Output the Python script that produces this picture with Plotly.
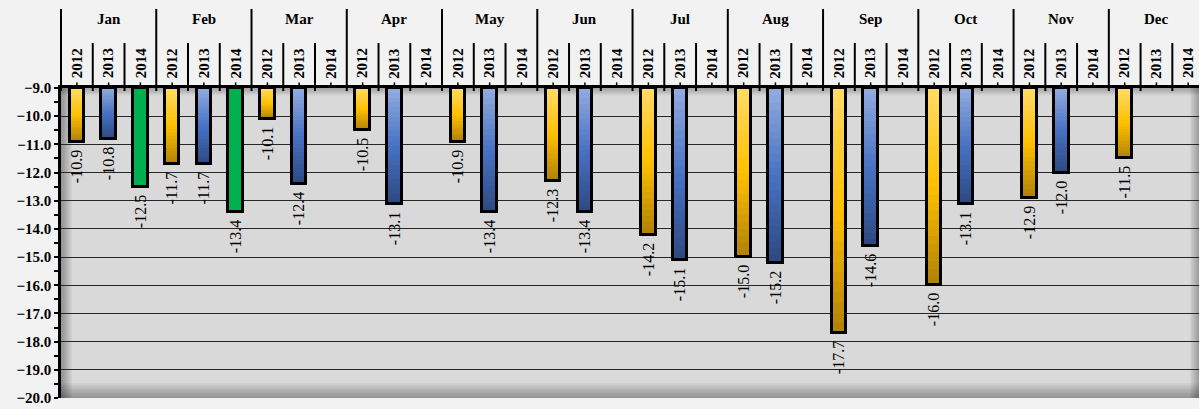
import plotly.graph_objects as go

# Monthly minimum values per year
months = ["Jan", "Feb", "Mar", "Apr", "May", "Jun",
          "Jul", "Aug", "Sep", "Oct", "Nov", "Dec"]
years = ["2012", "2013", "2014"]
vals_2012 = [-10.9, -11.7, -10.1, -10.5, -10.9, -12.3, -14.2, -15.0, -17.7, -16.0, -12.9, -11.5]
vals_2013 = [-10.8, -11.7, -12.4, -13.1, -13.4, -13.4, -15.1, -15.2, -14.6, -13.1, -12.0, None]
vals_2014 = [-12.5, -13.4, None, None, None, None, None, None, None, None, None, None]

BASE = -9.0
Y_MIN = -20.0
FONT = "Liberation Serif"

# colour ramps (top, middle, bottom) per year
ramps = {
    "2012": [(255, 219, 105), (255, 192, 0), (176, 128, 8)],
    "2013": [(146, 172, 222), (72, 114, 196), (44, 72, 128)],
    "2014": [(0, 176, 80), (0, 176, 80), (0, 176, 80)],
}
series = {"2012": vals_2012, "2013": vals_2013, "2014": vals_2014}


def ramp_color(stops, t):
    # t = 0 at the bar top, 1 at the bar bottom
    if t <= 0.5:
        a, b, u = stops[0], stops[1], t / 0.5
    else:
        a, b, u = stops[1], stops[2], (t - 0.5) / 0.5
    c = [round(a[i] + (b[i] - a[i]) * u) for i in range(3)]
    return f"rgb({c[0]},{c[1]},{c[2]})"


# flatten to the two-level category axis
x_outer, x_inner, values, yr_of = [], [], [], []
for m_i, m in enumerate(months):
    for y in years:
        x_outer.append(m)
        x_inner.append(y)
        values.append(series[y][m_i])
        yr_of.append(y)

fig = go.Figure()

BAR_W = 0.46
N_STEPS = 24
# gradient fill: nested bars, longest first, each shorter one lighter
for k in range(N_STEPS):
    frac = (N_STEPS - k) / N_STEPS
    t = (N_STEPS - k - 0.5) / N_STEPS
    ys, cols = [], []
    for v, y in zip(values, yr_of):
        ys.append(None if v is None else (v - BASE) * frac)
        cols.append(ramp_color(ramps[y], t))
    fig.add_trace(go.Bar(
        x=[x_outer, x_inner], y=ys, base=BASE, width=BAR_W,
        marker=dict(color=cols, line=dict(width=0)),
        hoverinfo="skip", showlegend=False,
    ))

# value labels get a transparent trailing spacer so they sit clear of the bar end
SPACER = "<span style='color:rgba(0,0,0,0)'>-</span>"

# outline and value labels
fig.add_trace(go.Bar(
    x=[x_outer, x_inner],
    y=[None if v is None else v - BASE for v in values],
    base=BASE, width=BAR_W,
    marker=dict(color="rgba(0,0,0,0)", line=dict(color="black", width=3)),
    text=[None if v is None else f"{v:.1f}{SPACER}" for v in values],
    textposition="outside", textangle=-90, cliponaxis=False,
    constraintext="none",
    textfont=dict(family=FONT, size=16, color="black"),
    customdata=values,
    hovertemplate="%{x}: %{customdata:.1f}<extra></extra>",
    showlegend=False,
))

n_cat = len(values)
x_range = [-0.5, n_cat - 0.66]
span = x_range[1] - x_range[0]


def px(pos):
    return (pos - x_range[0]) / span


shapes = []
# soft shadow along the left, bottom and right of the plot area
for i in range(8):
    shapes.append(dict(type="rect", xref="paper", yref="paper", layer="below",
                       x0=0, x1=0.0012 * (i + 1), y0=0, y1=1,
                       fillcolor="black", opacity=0.045, line=dict(width=0)))
    shapes.append(dict(type="rect", xref="paper", yref="paper", layer="below",
                       x0=0, x1=1, y0=0, y1=0.006 * (i + 1),
                       fillcolor="black", opacity=0.045, line=dict(width=0)))
    shapes.append(dict(type="rect", xref="paper", yref="paper", layer="below",
                       x0=1 - 0.001 * (i + 1), x1=1, y0=0, y1=1,
                       fillcolor="black", opacity=0.035, line=dict(width=0)))
    shapes.append(dict(type="rect", xref="paper", yref="paper", layer="below",
                       x0=0, x1=1, y0=1 - 0.003 * (i + 1), y1=1,
                       fillcolor="black", opacity=0.03, line=dict(width=0)))

# separators between years inside each month, plus centre ticks
for c in range(n_cat):
    if c % 3 != 0:
        shapes.append(dict(type="line", xref="paper", yref="paper",
                           x0=px(c - 0.5), x1=px(c - 0.5), y0=0.99, y1=1.145,
                           line=dict(color="black", width=2)))
    shapes.append(dict(type="line", xref="paper", yref="paper",
                       x0=px(c), x1=px(c), y0=1, y1=1.018,
                       line=dict(color="black", width=1.5)))
# separators between months
for m_i in range(len(months)):
    c = 3 * m_i
    shapes.append(dict(type="line", xref="paper", yref="paper",
                       x0=px(c - 0.5), x1=px(c - 0.5), y0=0.99, y1=1.255,
                       line=dict(color="black", width=2)))

annotations = []
for c in range(n_cat):
    annotations.append(dict(xref="paper", yref="paper", x=px(c), y=1.025,
                            text=x_inner[c], showarrow=False, textangle=-90,
                            xanchor="center", yanchor="bottom",
                            font=dict(family=FONT, size=15, color="black", weight="bold")))
for m_i, m in enumerate(months):
    annotations.append(dict(xref="paper", yref="paper", x=px(3 * m_i + 1), y=1.19,
                            text=m, showarrow=False, xanchor="center", yanchor="bottom",
                            font=dict(family=FONT, size=15, color="black", weight="bold")))

fig.update_layout(
    width=1199, height=409,
    margin=dict(l=61, r=0, t=88, b=11),
    paper_bgcolor="#f2f2f2",
    plot_bgcolor="#d9d9d9",
    barmode="overlay",
    bargap=0,
    shapes=shapes,
    annotations=annotations,
    xaxis=dict(
        type="multicategory", side="top", range=x_range,
        showticklabels=False, showgrid=False, showdividers=False,
        showline=True, linecolor="black", linewidth=2.5,
        ticks="", zeroline=False,
    ),
    yaxis=dict(
        range=[Y_MIN, BASE], dtick=1, tick0=BASE, tickformat=".1f",
        showline=True, linecolor="black", linewidth=2.5,
        ticks="outside", ticklen=4, tickwidth=2, tickcolor="black",
        minor=dict(dtick=0.5, ticks="outside", ticklen=4, tickwidth=2,
                   tickcolor="black", showgrid=False),
        showgrid=True, gridcolor="#262626", gridwidth=1,
        zeroline=False,
        tickfont=dict(family=FONT, size=15, color="black", weight="bold"),
    ),
)

fig.write_html("out.html")
